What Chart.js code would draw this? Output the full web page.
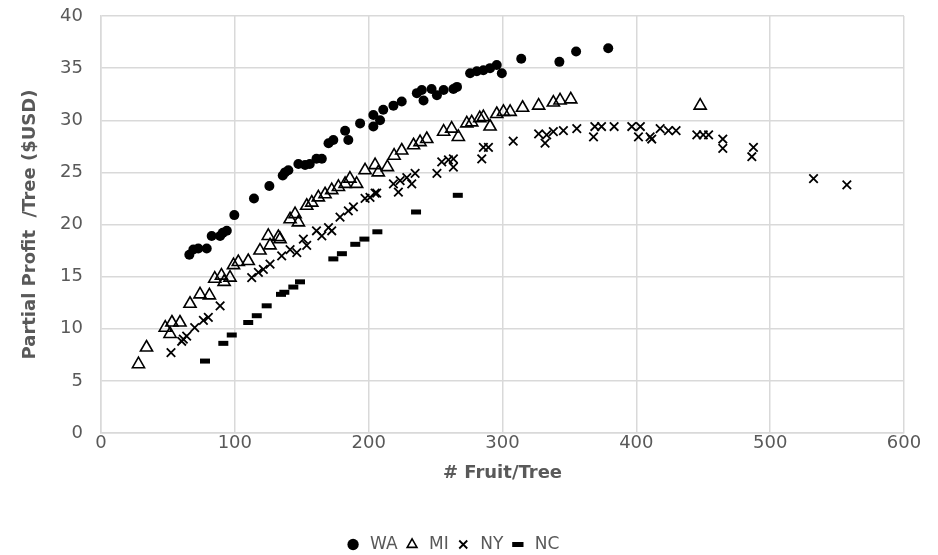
<!DOCTYPE html>
<html>
<head>
<meta charset="utf-8">
<script src="https://cdn.jsdelivr.net/npm/chart.js@4.4.1/dist/chart.umd.min.js"></script>
<style>
  html, body { margin: 0; padding: 0; background: #ffffff; }
  #wrap { width: 938px; height: 555px; }
</style>
</head>
<body>
<div id="wrap"><canvas id="chart" width="938" height="555"></canvas></div>
<script>
// values (# fruit per tree, partial profit per tree)
var waX = [66, 69, 72.7, 79, 82.7, 89, 91, 94, 99.6, 114.3, 125.8, 135.8, 137.5, 140, 147.5, 152.5, 156, 161, 165, 170, 173.6, 182.4, 184.8, 193.6, 203.5, 203.5, 208.5, 210.9, 218.5, 224.7, 236, 239.7, 241, 247, 251, 256, 263.3, 266, 275.8, 280.8, 285.7, 290.7, 295.7, 299.5, 314, 342.5, 355, 379];
var waY = [17.1, 17.6, 17.7, 17.7, 18.9, 18.9, 19.2, 19.4, 20.9, 22.5, 23.7, 24.7, 25.0, 25.2, 25.8, 25.7, 25.8, 26.3, 26.3, 27.8, 28.1, 29.0, 28.1, 29.7, 30.5, 29.4, 30.0, 31.0, 31.4, 31.8, 32.6, 32.9, 31.9, 33.0, 32.4, 32.9, 33.0, 33.2, 34.5, 34.7, 34.8, 35.0, 35.3, 34.5, 35.9, 35.6, 36.6, 36.9];

var miX = [28, 34, 48, 51.6, 53, 59, 66.5, 74, 81, 85, 90, 92, 96.4, 99, 102.6, 110, 118.8, 125, 126.3, 132.5, 133.8, 141.3, 145, 147.5, 153.7, 157.5, 162.4, 167.4, 172.4, 177.4, 182.4, 186, 191, 197.3, 204.8, 207.2, 214, 219, 224.7, 233.5, 238.4, 243.4, 256, 262, 267, 273.3, 277, 283, 285.7, 290.7, 295.7, 300.7, 305.7, 315, 327, 338, 343, 351, 447.7];
var miY = [6.6, 8.2, 10.1, 9.5, 10.6, 10.6, 12.4, 13.3, 13.2, 14.8, 15.1, 14.5, 14.9, 16.1, 16.4, 16.5, 17.5, 18.9, 18.0, 18.8, 18.6, 20.5, 21.0, 20.2, 21.8, 22.1, 22.6, 22.9, 23.3, 23.6, 23.9, 24.4, 23.9, 25.2, 25.7, 25.0, 25.5, 26.6, 27.1, 27.6, 27.9, 28.2, 28.9, 29.2, 28.4, 29.7, 29.8, 30.2, 30.3, 29.4, 30.6, 30.8, 30.8, 31.2, 31.4, 31.7, 31.9, 32.0, 31.4];

var nyX = [52.3, 60.3, 61.5, 64, 70, 76.5, 80.2, 89, 112.6, 117.6, 121.3, 126.3, 135, 141.3, 146.3, 151.2, 153.7, 161, 165, 170, 172.4, 178.6, 184.8, 188.6, 197.3, 201, 204.8, 206, 218.5, 222.2, 223.5, 228.5, 232.2, 234.7, 251, 254.6, 259.6, 263.3, 263.3, 284.5, 285.7, 289.5, 308, 327, 331.8, 333, 338, 345.5, 355.5, 368, 369, 374, 383.4, 396.6, 401.6, 403, 410.3, 411.5, 417.8, 424, 429.7, 445.2, 450, 454, 464.6, 464.6, 487.5, 486.3, 532.4, 557.3];
var nyY = [7.7, 8.8, 9.0, 9.3, 10.1, 10.8, 11.1, 12.2, 14.9, 15.4, 15.7, 16.2, 17.0, 17.6, 17.3, 18.6, 18.0, 19.4, 18.9, 19.7, 19.4, 20.7, 21.3, 21.7, 22.5, 22.6, 23.0, 23.0, 23.9, 23.1, 24.2, 24.5, 23.9, 24.9, 24.9, 26.0, 26.2, 26.3, 25.5, 26.3, 27.4, 27.4, 28.0, 28.7, 27.8, 28.6, 28.9, 29.0, 29.2, 28.4, 29.4, 29.4, 29.4, 29.4, 28.4, 29.4, 28.4, 28.2, 29.2, 29.0, 29.0, 28.6, 28.6, 28.6, 28.2, 27.3, 27.4, 26.5, 24.4, 23.8];

var ncX = [77.7, 91.4, 97.7, 110, 116.4, 123.8, 134.5, 137, 143.7, 148.7, 173.6, 180, 190, 196.8, 206.5, 235.4, 266.6];
var ncY = [6.9, 8.6, 9.4, 10.6, 11.25, 12.2, 13.3, 13.5, 14.0, 14.5, 16.7, 17.2, 18.1, 18.6, 19.3, 21.2, 22.8];

var xTicks = [0, 100, 200, 300, 400, 500, 600];
var yTicks = [0, 5, 10, 15, 20, 25, 30, 35, 40];

function pts(xs, ys) {
    return xs.map((x, i) => ({ x: x, y: ys[i] }));
}

var fontFamily = '"DejaVu Sans", sans-serif';
var textColor = '#595959';
var gridColor = '#d9d9d9';

var chart = new Chart(document.getElementById('chart'), {
    type: 'scatter',
    data: {
        datasets: [
            {
                label: 'WA',
                data: pts(waX, waY),
                pointStyle: 'circle',
                pointRadius: 5,
                backgroundColor: '#000000',
                borderColor: '#000000',
                borderWidth: 0
            },
            {
                label: 'MI',
                data: pts(miX, miY),
                pointStyle: 'triangle',
                pointRadius: 7,
                backgroundColor: 'rgba(0,0,0,0)',
                borderColor: '#000000',
                borderWidth: 1.6
            },
            {
                label: 'NY',
                data: pts(nyX, nyY),
                pointStyle: 'crossRot',
                pointRadius: 6,
                backgroundColor: '#000000',
                borderColor: '#000000',
                borderWidth: 1.8
            },
            {
                label: 'NC',
                data: pts(ncX, ncY),
                pointStyle: 'line',
                pointRadius: 5,
                backgroundColor: '#000000',
                borderColor: '#000000',
                borderWidth: 5
            }
        ]
    },
    options: {
        responsive: false,
        animation: false,
        devicePixelRatio: 1,
        layout: { padding: { top: 16, right: 34, bottom: -8, left: 0 } },
        plugins: {
            tooltip: { enabled: false },
            legend: {
                position: 'bottom',
                labels: {
                    usePointStyle: true,
                    boxHeight: 8,
                    padding: 6,
                    color: textColor,
                    font: { family: fontFamily, size: 17 }
                }
            }
        },
        scales: {
            x: {
                type: 'linear',
                min: 0,
                max: 600,
                afterBuildTicks: s => { s.ticks = xTicks.map(v => ({ value: v })); },
                afterFit: s => { s.height = 97; },
                grid: { color: gridColor, lineWidth: 1.5, drawTicks: false },
                border: { color: gridColor, width: 1.5 },
                ticks: { color: textColor, padding: 0, font: { family: fontFamily, size: 18 } },
                title: {
                    display: true,
                    text: '# Fruit/Tree',
                    color: textColor,
                    padding: { top: 0, bottom: 46 },
                    font: { family: fontFamily, size: 18, weight: 'bold' }
                }
            },
            y: {
                type: 'linear',
                min: 0,
                max: 40,
                afterBuildTicks: s => { s.ticks = yTicks.map(v => ({ value: v })); },
                afterFit: s => { s.width = 101; s.paddingTop = 0; s.paddingBottom = 0; },
                grid: { color: gridColor, lineWidth: 1.5, drawTicks: false },
                border: { color: gridColor, width: 1.5 },
                ticks: { color: textColor, padding: 18, font: { family: fontFamily, size: 18 } },
                title: {
                    display: true,
                    text: 'Partial Profit  /Tree ($USD)',
                    color: textColor,
                    padding: { top: 20, bottom: 0 },
                    font: { family: fontFamily, size: 18, weight: 'bold' }
                }
            }
        }
    }
});
</script>
</body>
</html>
